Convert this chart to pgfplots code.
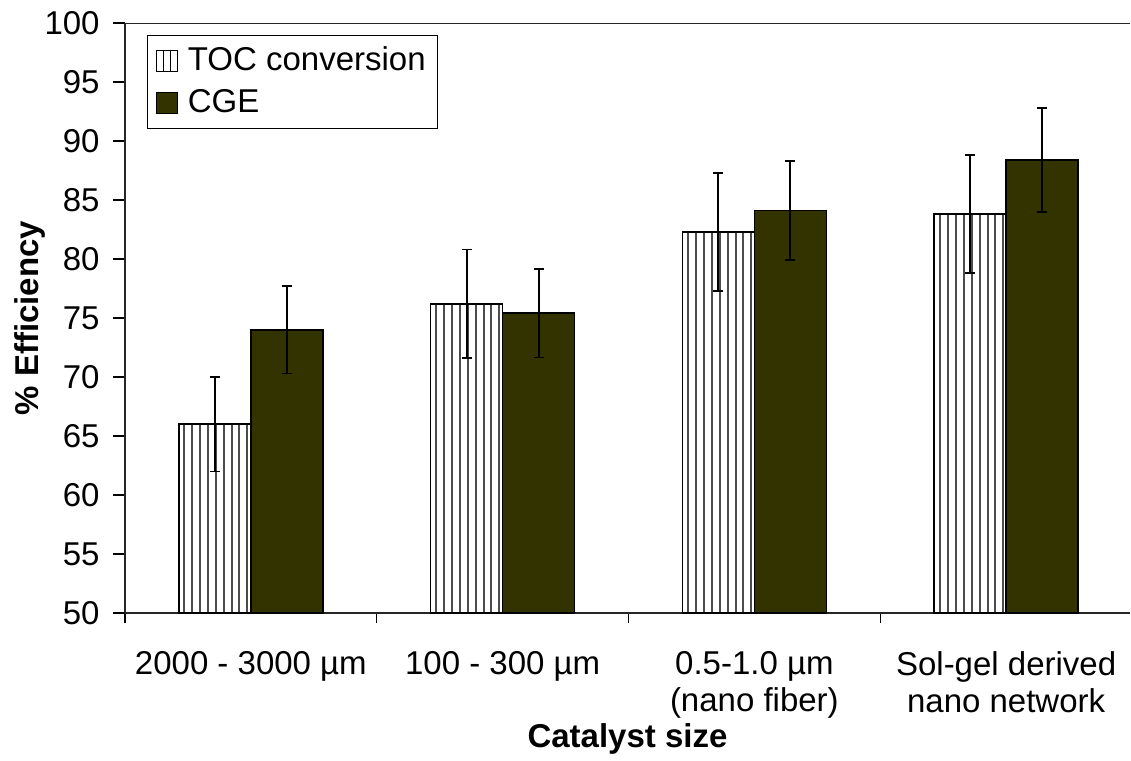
\documentclass[border=0pt]{standalone}
\usepackage{pgfplots}
\pgfplotsset{compat=1.18}
\usepackage{fontspec}
\setmainfont{Liberation Sans}
\usetikzlibrary{patterns}
\definecolor{cge}{HTML}{333300}
% vertical hatching for the TOC bars
\pgfdeclarepatternformonly{tocvlines}{\pgfqpoint{0pt}{-1pt}}{\pgfqpoint{3.9375pt}{5pt}}{\pgfqpoint{3.9375pt}{3.9375pt}}{%
  \pgfsetlinewidth{1pt}%
  \pgfpathmoveto{\pgfqpoint{1.6pt}{-1pt}}%
  \pgfpathlineto{\pgfqpoint{1.6pt}{5pt}}%
  \pgfusepath{stroke}}

\begin{document}
\fontsize{16.5}{19.5}\selectfont
\begin{tikzpicture}
\begin{axis}[
  scale only axis,
  width=502.5pt, height=295pt,
  ybar=0pt, bar width=36pt,
  xmin=0.5, xmax=4.492,
  ymin=50, ymax=100,
  ytick={50,55,...,100},
  xtick={1,2,3,4},
  minor xtick={0.5,1.5,2.5,3.5},
  xticklabels={2000 - 3000 µm, 100 - 300 µm, {0.5-1.0 µm\\(nano fiber)}, {Sol-gel derived\\nano network}},
  axis x line*=bottom, axis y line*=left,
  axis line style={-, line width=0.8pt, black!85},
  tick style={line width=0.6pt, black},
  tick align=outside,
  major tick length=6pt, minor tick length=5pt,
  major x tick style={draw=none},
  /pgf/number format/assume math mode=true,
  tick label style={font=\fontsize{16.5}{18.5}\selectfont},
  xticklabel style={align=center, yshift=-7.5pt},
  yticklabel style={xshift=-1pt},
  every axis y label/.style={at={(axis description cs:-0.0945,0.5)}, rotate=90, anchor=center},
  every axis x label/.style={at={(axis description cs:0.5,-0.2135)}, anchor=center},
  ylabel={\bfseries\% Efficiency},
  xlabel={\bfseries Catalyst size},
  label style={font=\fontsize{16.5}{19.5}\selectfont},
  legend style={at={(axis description cs:0.022,0.98)}, anchor=north west,
    draw=black, line width=0.6pt, font=\fontsize{16.5}{19.5}\selectfont,
    inner xsep=4pt, inner ysep=3.5pt, row sep=3pt,
    /tikz/every odd column/.append style={column sep=3pt}},
  legend cell align=left,
  legend image code/.code={\draw[#1, line width=0.5pt] (0pt,-5.2pt) rectangle (10.5pt,5.2pt);},
  error bars/y dir=both, error bars/y explicit,
  error bars/error bar style={line width=0.9pt, black},
  error bars/error mark options={rotate=90, mark size=2.5pt, line width=0.9pt, black},
]
\addplot[draw=black, line width=0.8pt, pattern=tocvlines, pattern color=black!70,
  legend image code/.code={
    \draw[black, line width=0.6pt, fill=white] (0pt,-5.2pt) rectangle (10.5pt,5.2pt);
    \draw[black, line width=0.6pt] (3.5pt,-5.2pt) -- (3.5pt,5.2pt) (7pt,-5.2pt) -- (7pt,5.2pt);}]
  coordinates {(1,66.0) +- (0,4.0) (2,76.2) +- (0,4.6) (3,82.3) +- (0,5.0) (4,83.8) +- (0,5.0)};
\addplot[draw=black, line width=0.8pt, fill=cge]
  coordinates {(1,74.0) +- (0,3.7) (2,75.4) +- (0,3.75) (3,84.1) +- (0,4.2) (4,88.4) +- (0,4.4)};
\legend{TOC conversion, CGE}
\draw[line width=0.8pt, black!85] (rel axis cs:0,1) -- (rel axis cs:1,1);
\end{axis}
\pgfresetboundingbox
\path (-62.5pt,-74pt) rectangle (503pt,306.5pt);
\end{tikzpicture}
\end{document}
